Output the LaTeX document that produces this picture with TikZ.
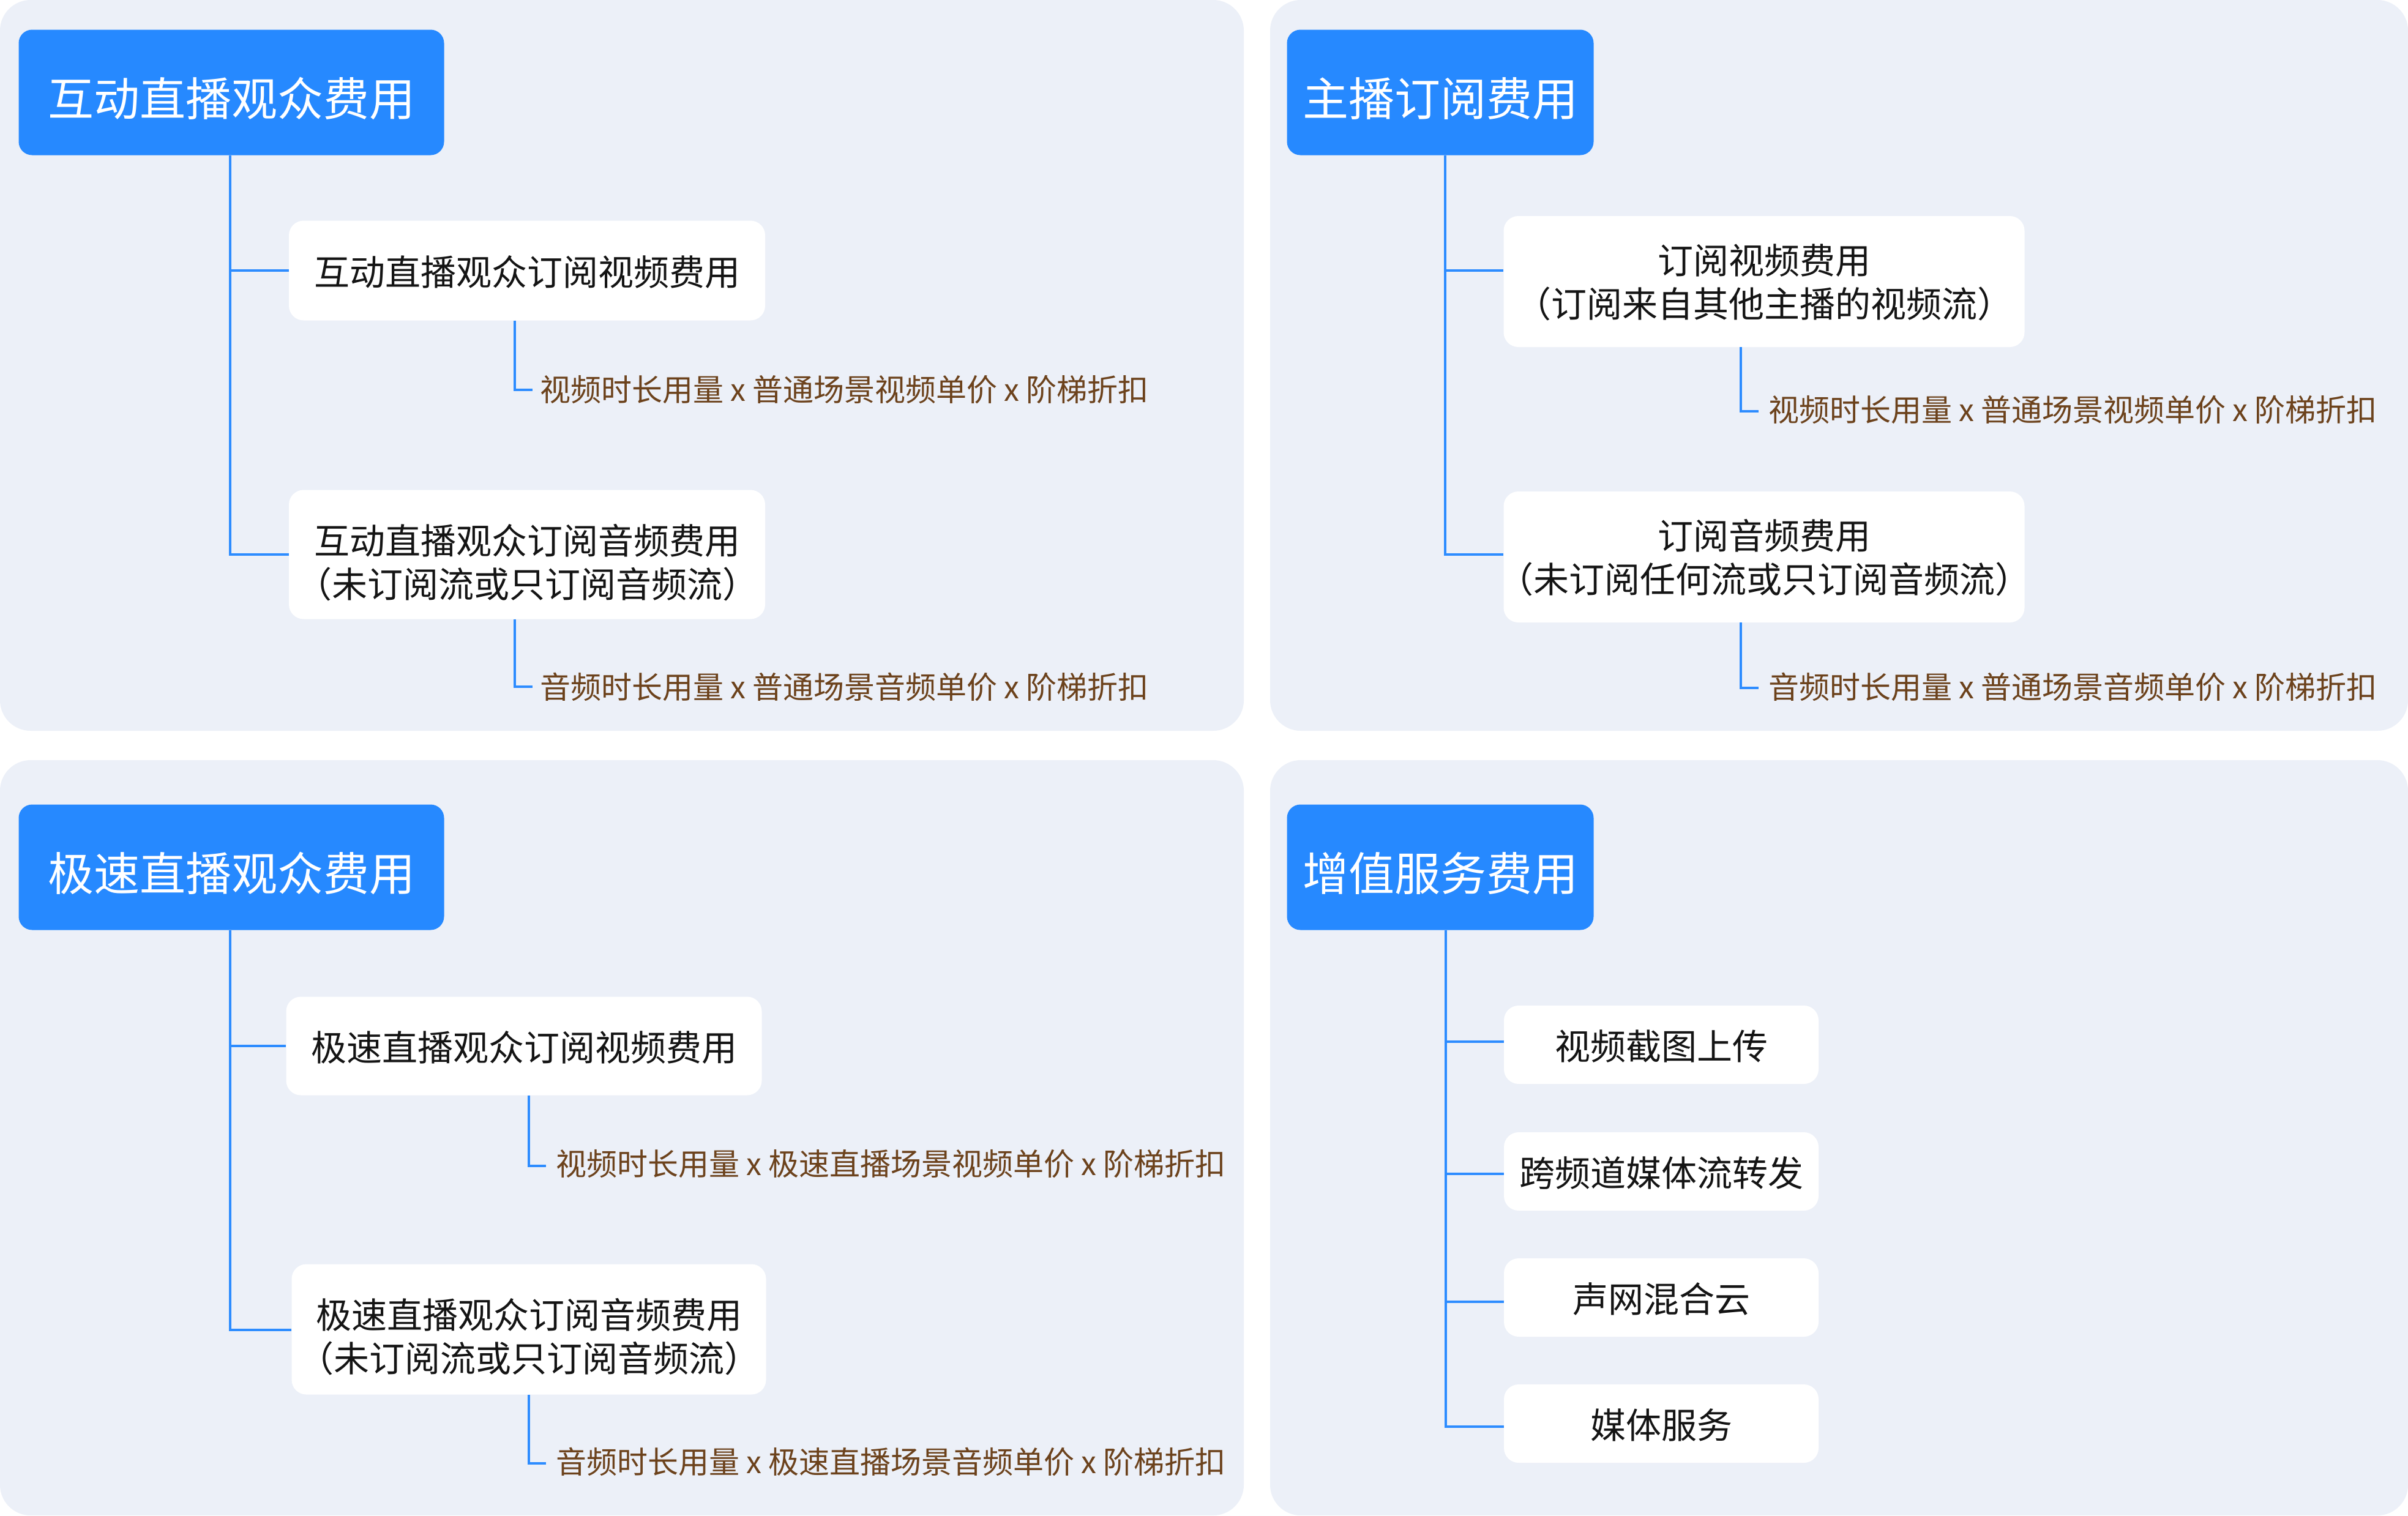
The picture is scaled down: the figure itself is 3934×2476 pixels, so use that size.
\documentclass[tikz,border=0pt]{standalone}
\usepackage{fontspec}
\setmainfont{Noto Sans CJK SC}[RawFeature=+halt]
\definecolor{panelbg}{RGB}{236,240,248}
\definecolor{hdrblue}{RGB}{38,137,255}
\definecolor{lineblue}{RGB}{45,140,255}
\definecolor{labelbrown}{RGB}{108,66,28}
\definecolor{leaftext}{RGB}{20,20,20}
\newcommand\twoline[3]{\raisebox{0pt}[#1][4pt]{\begin{tabular}[b]{@{}c@{}}#2\\#3\end{tabular}}}
\tikzset{
  panel/.style={fill=panelbg, rounded corners=50pt},
  header/.style={fill=hdrblue, rounded corners=22pt, text=white, font=\fontsize{75}{90}\selectfont, minimum height=205pt, inner sep=0pt, text height=80pt, text depth=3pt},
  leaf/.style={fill=white, rounded corners=24pt, text=leaftext, font=\fontsize{58}{71}\selectfont, align=center, inner sep=0pt},
  oneline/.style={text height=52pt, text depth=4pt},
  formula/.style={text=labelbrown, font=\fontsize{50}{60}\selectfont, anchor=west, inner sep=0pt},
  link/.style={draw=lineblue, line width=4pt}
}
\begin{document}
\begin{tikzpicture}[x=1pt, y=-1pt]
\useasboundingbox (0,0) rectangle (3934,2476);
\fill[white] (0,0) rectangle (3934,2476);
% panels
\fill[panel] (0,0) rectangle (2032,1194);
\fill[panel] (2075,0) rectangle (3934,1194);
\fill[panel] (0,1242) rectangle (2032,2476);
\fill[panel] (2075,1242) rectangle (3934,2476);

% ---------- panel 1 ----------
\node[header, minimum width=695pt] (h1) at (378,151) {互动直播观众费用};
\node[leaf, oneline, minimum width=778pt, minimum height=163pt] (a1) at (861,442) {互动直播观众订阅视频费用};
\node[leaf, minimum width=778pt, minimum height=211pt] (a2) at (861,906) {\twoline{144pt}{互动直播观众订阅音频费用}{（未订阅流或只订阅音频流）}};
\node[formula] (fa1) at (882,637) {视频时长用量 x 普通场景视频单价 x 阶梯折扣};
\node[formula] (fa2) at (882,1122) {音频时长用量 x 普通场景音频单价 x 阶梯折扣};
\coordinate (t1) at (376,906);
\draw[link] (h1.south -| t1) -- (t1) -- (t1 -| a2.west);
\draw[link] (t1 |- a1.west) -- (a1.west);
\coordinate (s1) at (841,637);
\coordinate (s2) at (841,1122);
\draw[link] (a1.south -| s1) -- (s1) -- ([xshift=-12pt]fa1.west);
\draw[link] (a2.south -| s2) -- (s2) -- ([xshift=-12pt]fa2.west);

% ---------- panel 2 ----------
\node[header, minimum width=501pt] (h2) at (2353,151) {主播订阅费用};
\node[leaf, minimum width=851pt, minimum height=214pt] (b1) at (2882,460) {\twoline{121pt}{订阅视频费用}{（订阅来自其他主播的视频流）}};
\node[leaf, minimum width=851pt, minimum height=214pt] (b2) at (2882,910) {\twoline{121pt}{订阅音频费用}{（未订阅任何流或只订阅音频流）}};
\node[formula] (fb1) at (2889,670) {视频时长用量 x 普通场景视频单价 x 阶梯折扣};
\node[formula] (fb2) at (2889,1122) {音频时长用量 x 普通场景音频单价 x 阶梯折扣};
\coordinate (t2) at (2361,906);
\coordinate (t2a) at (2361,442);
\draw[link] (h2.south -| t2) -- (t2) -- (t2 -| b2.west);
\draw[link] (t2a) -- (t2a -| b1.west);
\coordinate (s3) at (2844,672);
\coordinate (s4) at (2844,1124);
\draw[link] (b1.south -| s3) -- (s3) -- ([xshift=-16pt]fb1.west |- s3);
\draw[link] (b2.south -| s4) -- (s4) -- ([xshift=-16pt]fb2.west |- s4);

% ---------- panel 3 ----------
\node[header, minimum width=695pt] (h3) at (378,1417) {极速直播观众费用};
\node[leaf, oneline, minimum width=777pt, minimum height=161pt] (c1) at (856,1709) {极速直播观众订阅视频费用};
\node[leaf, minimum width=775pt, minimum height=213pt] (c2) at (864,2172) {\twoline{142pt}{极速直播观众订阅音频费用}{（未订阅流或只订阅音频流）}};
\node[formula] (fc1) at (908,1902) {视频时长用量 x 极速直播场景视频单价 x 阶梯折扣};
\node[formula] (fc2) at (908,2388) {音频时长用量 x 极速直播场景音频单价 x 阶梯折扣};
\coordinate (t3) at (376,2173);
\draw[link] (h3.south -| t3) -- (t3) -- (t3 -| c2.west);
\draw[link] (t3 |- c1.west) -- (c1.west);
\coordinate (s5) at (864,1905);
\coordinate (s6) at (864,2391);
\draw[link] (c1.south -| s5) -- (s5) -- ([xshift=-16pt]fc1.west |- s5);
\draw[link] (c2.south -| s6) -- (s6) -- ([xshift=-16pt]fc2.west |- s6);

% ---------- panel 4 ----------
\node[header, minimum width=501pt] (h4) at (2353,1417) {增值服务费用};
\node[leaf, oneline, minimum width=514pt, minimum height=128pt] (d1) at (2714,1707) {视频截图上传};
\node[leaf, oneline, minimum width=514pt, minimum height=128pt] (d2) at (2714,1914) {跨频道媒体流转发};
\node[leaf, oneline, minimum width=514pt, minimum height=128pt] (d3) at (2714,2120) {声网混合云};
\node[leaf, oneline, minimum width=514pt, minimum height=128pt] (d4) at (2714,2326) {媒体服务};
\coordinate (t4) at (2362,2331);
\coordinate (t4a) at (2362,1702);
\coordinate (t4b) at (2362,1918);
\coordinate (t4c) at (2362,2127);
\draw[link] (h4.south -| t4) -- (t4) -- (t4 -| d4.west);
\draw[link] (t4a) -- (t4a -| d1.west);
\draw[link] (t4b) -- (t4b -| d2.west);
\draw[link] (t4c) -- (t4c -| d3.west);
\end{tikzpicture}
\end{document}
